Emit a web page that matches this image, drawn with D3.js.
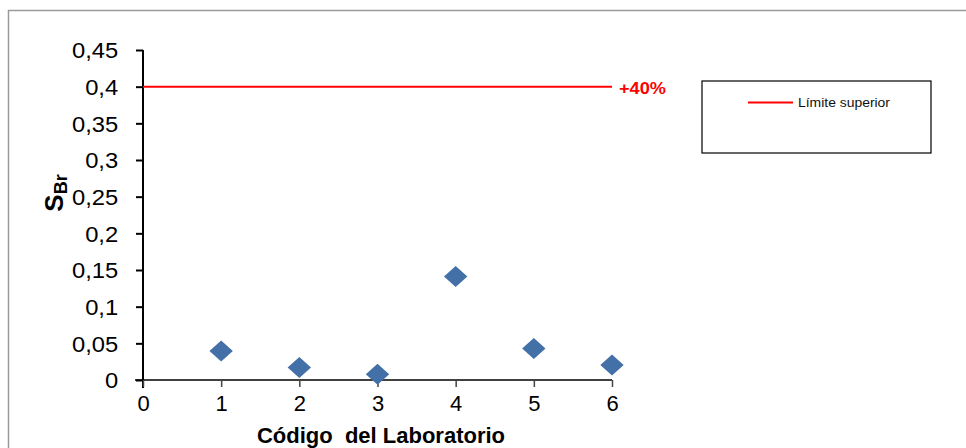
<!DOCTYPE html>
<html><head><meta charset="utf-8">
<script src="https://cdn.jsdelivr.net/npm/d3@7"></script>
<style>body{margin:0;background:#fff;}svg{display:block;font-family:"Liberation Sans",Arial,sans-serif;}</style>
</head><body>
<svg id="c" width="966" height="448"></svg>
<script>
const labCodes = [1, 2, 3, 4, 5, 6];
const sBr = [0.0395, 0.017, 0.0078, 0.141, 0.043, 0.0205];
const upperLimit = 0.4;
const yTicks = [0, 0.05, 0.1, 0.15, 0.2, 0.25, 0.3, 0.35, 0.4, 0.45];
const xTicks = [0, 1, 2, 3, 4, 5, 6];

const svg = d3.select("#c");
svg.append("path").attr("d", "M8.5,448 V10.5 H966").attr("fill", "none").attr("stroke", "#9a9a9a").attr("stroke-width", 1.5);

const x = d3.scaleLinear().domain([0, 6]).range([143, 612]);
const y = d3.scaleLinear().domain([0, 0.45]).range([380, 50]);
const fmt = d => String(d).replace(".", ",");

const gy = svg.append("g").attr("transform", "translate(143,0)")
  .call(d3.axisLeft(y).tickValues(yTicks).tickFormat(fmt).tickSize(7).tickPadding(16));
gy.select(".domain").attr("d", "M0,50 V388").attr("stroke", "#000").attr("stroke-width", 2);
gy.selectAll(".tick line").attr("stroke", "#000").attr("stroke-width", 2);
gy.selectAll("text").attr("font-size", 22).attr("fill", "#000").attr("font-family", "Liberation Sans, Arial, sans-serif").attr("dy", "0.35em")
  .attr("transform", "scale(1.08,1)");

const gx = svg.append("g").attr("transform", "translate(0,380)")
  .call(d3.axisBottom(x).tickValues(xTicks).tickFormat(d => d).tickSize(7).tickPadding(8));
gx.select(".domain").attr("d", "M135,0H612").attr("stroke", "#000").attr("stroke-width", 1.5);
gx.selectAll(".tick line").attr("stroke", "#444").attr("stroke-width", 1.5);
gx.selectAll("text").attr("font-size", 22).attr("fill", "#000").attr("font-family", "Liberation Sans, Arial, sans-serif");

svg.append("line").attr("x1", x(0)).attr("x2", x(6)).attr("y1", y(upperLimit)).attr("y2", y(upperLimit))
  .attr("stroke", "#ff0000").attr("stroke-width", 2);
svg.append("text").attr("x", x(6) + 7).attr("y", y(upperLimit) + 7).attr("fill", "#ff0000")
  .attr("font-weight", "bold").attr("font-size", 17).attr("textLength", 47).attr("lengthAdjust", "spacingAndGlyphs").text("+40%");

svg.append("g").selectAll("path").data(labCodes).join("path")
  .attr("transform", (d, i) => `translate(${x(d)},${y(sBr[i])})`)
  .attr("d", d3.symbol().type({draw(ctx, s){const r=Math.sqrt(s)/1.6; ctx.moveTo(0,-r*0.9); ctx.lineTo(r,0); ctx.lineTo(0,r*0.9); ctx.lineTo(-r,0); ctx.closePath();}}).size(350))
  .attr("fill", "#4470a8");

svg.append("text").attr("x", 381).attr("y", 443).attr("text-anchor", "middle")
  .attr("font-weight", "bold").attr("font-size", 22).attr("xml:space", "preserve").text("Código  del Laboratorio");
const yl = svg.append("text").attr("transform", "translate(63,193) rotate(-90)").attr("text-anchor", "middle")
  .attr("font-weight", "bold").attr("font-size", 26);
yl.append("tspan").text("S");
yl.append("tspan").attr("font-size", 18).attr("dy", 4).text("Br");

svg.append("rect").attr("x", 702).attr("y", 81).attr("width", 229).attr("height", 72)
  .attr("fill", "#fff").attr("stroke", "#000").attr("stroke-width", 1.2);
svg.append("line").attr("x1", 748).attr("x2", 793).attr("y1", 102.5).attr("y2", 102.5).attr("stroke", "#ff0000").attr("stroke-width", 2);
svg.append("text").attr("x", 798).attr("y", 106.5).attr("font-size", 12).attr("fill", "#111")
  .attr("textLength", 92).attr("lengthAdjust", "spacingAndGlyphs").text("Límite superior");
</script>
</body></html>
